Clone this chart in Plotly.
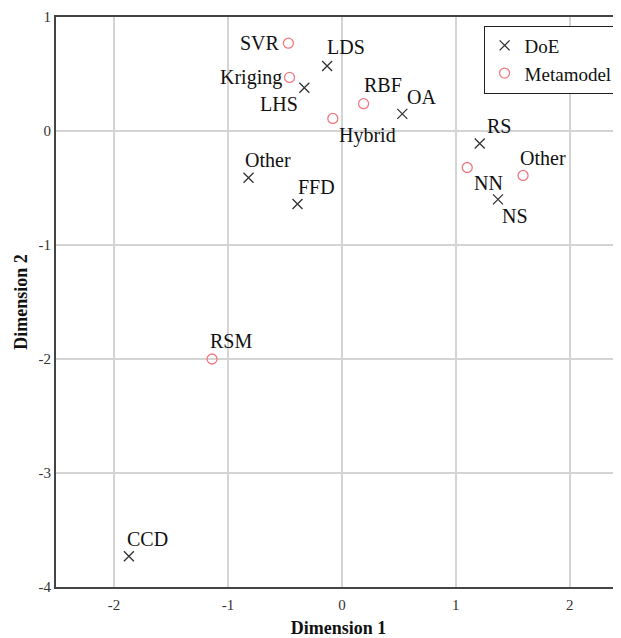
import plotly.graph_objects as go

# DoE points
doe_labels = ["LDS", "LHS", "OA", "RS", "NS", "Other", "FFD", "CCD"]
doe_x = [-0.13, -0.33, 0.53, 1.21, 1.37, -0.82, -0.39, -1.87]
doe_y = [0.57, 0.38, 0.15, -0.11, -0.60, -0.41, -0.64, -3.73]

# Metamodel points
meta_labels = ["SVR", "Kriging", "RBF", "Hybrid", "NN", "Other", "RSM"]
meta_x = [-0.47, -0.46, 0.19, -0.08, 1.10, 1.59, -1.14]
meta_y = [0.77, 0.47, 0.24, 0.11, -0.32, -0.39, -2.00]

x_ticks = [-2, -1, 0, 1, 2]
y_ticks = [1, 0, -1, -2, -3, -4]

SERIF = "Liberation Serif"

fig = go.Figure()
fig.add_trace(go.Scatter(
    x=doe_x, y=doe_y, mode="markers", name="DoE",
    marker=dict(symbol="x-thin-open", size=10, color="#333333",
                line=dict(color="#333333", width=1.3)),
))
fig.add_trace(go.Scatter(
    x=meta_x, y=meta_y, mode="markers", name="Metamodel",
    marker=dict(symbol="circle-open", size=10, color="#f07a80",
                line=dict(color="#f07a80", width=1.3)),
))

# label placement (style): (xanchor, xshift, yshift)
doe_place = {
    "LDS": ("left", -2, 19), "LHS": ("right", -4, -16), "OA": ("left", 3, 17),
    "RS": ("left", 5, 18), "NS": ("left", 2, -17), "Other": ("left", -6, 18),
    "FFD": ("left", -1, 17), "CCD": ("left", -4, 17),
}
meta_place = {
    "SVR": ("right", -6, 0), "Kriging": ("right", -6, 0), "RBF": ("left", -2, 19),
    "Hybrid": ("left", 4, -17), "NN": ("left", 5, -16), "Other": ("left", -5, 17),
    "RSM": ("left", -4, 18),
}

for labels, xs, ys, place in [(doe_labels, doe_x, doe_y, doe_place),
                              (meta_labels, meta_x, meta_y, meta_place)]:
    for lab, x, y in zip(labels, xs, ys):
        xa, xs_, ys_ = place[lab]
        fig.add_annotation(x=x, y=y, text=lab, showarrow=False,
                           xanchor=xa, yanchor="middle", xshift=xs_, yshift=ys_,
                           font=dict(family=SERIF, size=20, color="#111111"))

# page body has an 8px default margin, so figure is 8px smaller and margins reduced
fig.update_layout(
    width=613, height=630,
    margin=dict(l=48, r=0, t=9, b=51, autoexpand=False),
    plot_bgcolor="white", paper_bgcolor="white",
    showlegend=True,
    legend=dict(x=0.994, y=0.985, xanchor="right", yanchor="top",
                bordercolor="#222222", borderwidth=1, bgcolor="white",
                font=dict(family=SERIF, size=19, color="#111111"),
                itemwidth=30, tracegroupgap=0),
    font=dict(family=SERIF),
)
fig.update_xaxes(
    range=[-2.51, 2.45], tickvals=x_ticks, ticktext=[str(v) for v in x_ticks],
    showgrid=True, gridcolor="#d4d4d4", gridwidth=2, zeroline=False,
    showline=True, linecolor="#444444", linewidth=2, mirror=True,
    ticks="", automargin=False, ticklabelstandoff=3,
    tickfont=dict(family=SERIF, size=15, color="#333333"),
    title=dict(text="<b>Dimension 1</b>", font=dict(family=SERIF, size=18, color="#111111"),
               standoff=10),
)
fig.update_yaxes(
    range=[-4, 1], tickvals=y_ticks, ticktext=[str(v) for v in y_ticks],
    showgrid=True, gridcolor="#d4d4d4", gridwidth=2, zeroline=False,
    showline=True, linecolor="#444444", linewidth=2, mirror=False,
    ticks="", automargin=False, tickfont=dict(family=SERIF, size=15, color="#333333"),
    title=dict(text="<b>Dimension 2</b>", font=dict(family=SERIF, size=18, color="#111111"),
               standoff=6),
)

fig.write_html("out.html")
